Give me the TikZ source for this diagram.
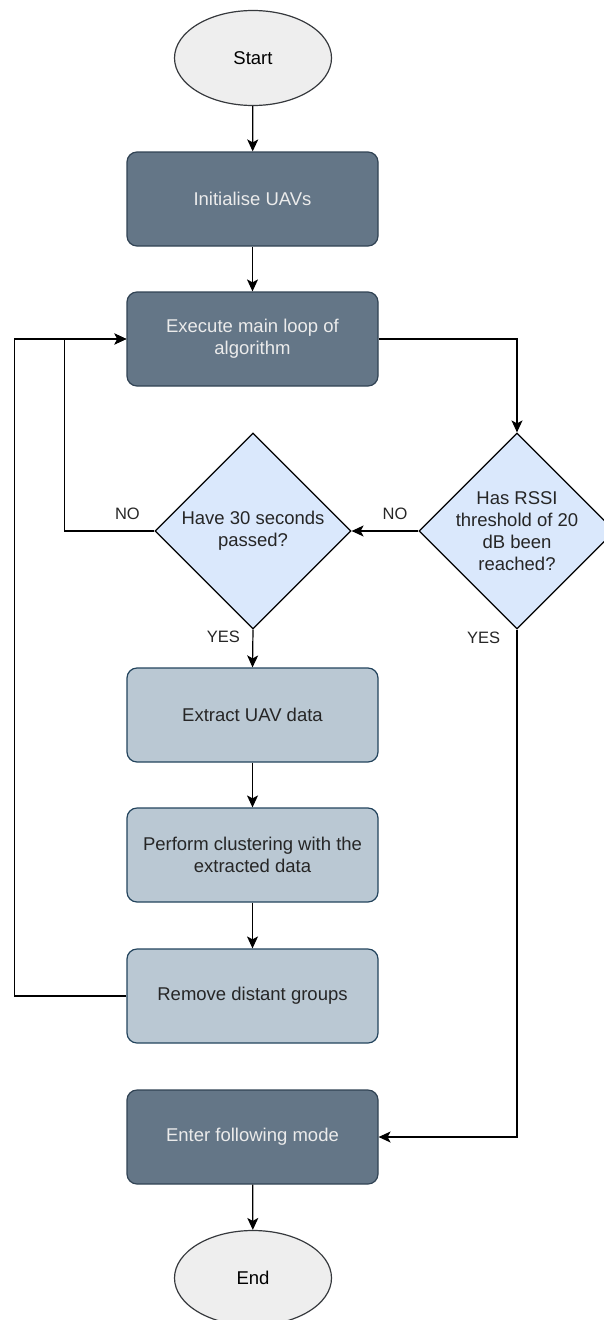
\documentclass[tikz,border=0pt]{standalone}
\usepackage{fontspec}
\setmainfont{Liberation Sans}
\usepackage{tikz}
\usetikzlibrary{shapes.geometric, arrows.meta}

\definecolor{darkfill}{HTML}{647687}
\definecolor{darkline}{HTML}{314354}
\definecolor{lightfill}{HTML}{BAC8D3}
\definecolor{lightline}{HTML}{23445D}
\definecolor{decfill}{HTML}{DAE8FC}
\definecolor{termfill}{HTML}{EEEEEE}
\definecolor{termline}{HTML}{36393D}

\begin{document}
\begin{tikzpicture}[x=1pt, y=-1pt, line width=1.2pt,
    font=\fontsize{18.5}{22}\selectfont,
    terminal/.style={ellipse, draw=termline, fill=termfill, minimum width=157pt, minimum height=95pt},
    darkbox/.style={rectangle, rounded corners=10pt, draw=darkline, fill=darkfill, text=white!92!black,
        minimum width=251pt, minimum height=94pt, align=center},
    lightbox/.style={rectangle, rounded corners=10pt, draw=lightline, fill=lightfill, text=black!85,
        minimum width=251pt, minimum height=94pt, align=center},
    decision/.style={diamond, draw=black, fill=decfill, aspect=1, inner sep=0pt,
        minimum width=196pt, minimum height=196pt},
    dectext/.style={align=center, text=black!85},
    lbl/.style={font=\fontsize{16.5}{19}\selectfont, text=black!85},
    flow/.style={-{Stealth[length=12pt, width=11pt, inset=3pt]}, black}]

      \path[use as bounding box, clip] (0,0) rectangle (604,1320);

      % nodes
      \node[terminal] (start) at (253,58) {Start};
      \node[darkbox] (init) at (252.5,199) {Initialise UAVs};
      \node[darkbox] (exec) at (252.5,339) {Execute main loop of\\algorithm};

      \node[decision] (passed) at (253,531) {};
      \node[dectext] (passedtext) at (passed) {Have 30 seconds\\passed?};
      \node[decision] (rssi) at (517,531) {};
      \node[dectext] (rssitext) at (rssi) {Has RSSI\\threshold of 20\\dB been\\reached?};

      \node[lightbox] (extract) at (252.5,715) {Extract UAV data};
      \node[lightbox] (cluster) at (252.5,855) {Perform clustering with the\\extracted data};
      \node[lightbox] (remove) at (252.5,996) {Remove distant groups};

      \node[darkbox] (enter) at (252.5,1137) {Enter following mode};
      \node[terminal] (end) at (253,1278) {End};

      % connectors
      \draw[flow] (start) -- (init);
      \draw[flow] (init) -- (exec);
      \draw[flow] (exec.east) -| (rssi.north);
      \draw[flow] (rssi.west) -- node[lbl, pos=0.35, above=7pt] (no2) {NO} (passed.east);
      \draw[flow] (passed.west) -- node[lbl, pos=0.3, above=7pt] (no1) {NO} ++(-90,0) |- (exec.west);
      \draw[flow] (passed.south) -- node[lbl, pos=0.2, left=9pt] (yes1) {YES} (extract.north);
      \draw[flow] (rssi.south) |- node[lbl, pos=0.008, left=13pt] (yes2) {YES} (enter.east);
      \draw[flow] (extract) -- (cluster);
      \draw[flow] (cluster) -- (remove);
      \draw[flow] (remove.west) -- ++(-112,0) |- (exec.west);
      \draw[flow] (enter) -- (end);
\end{tikzpicture}
\end{document}
